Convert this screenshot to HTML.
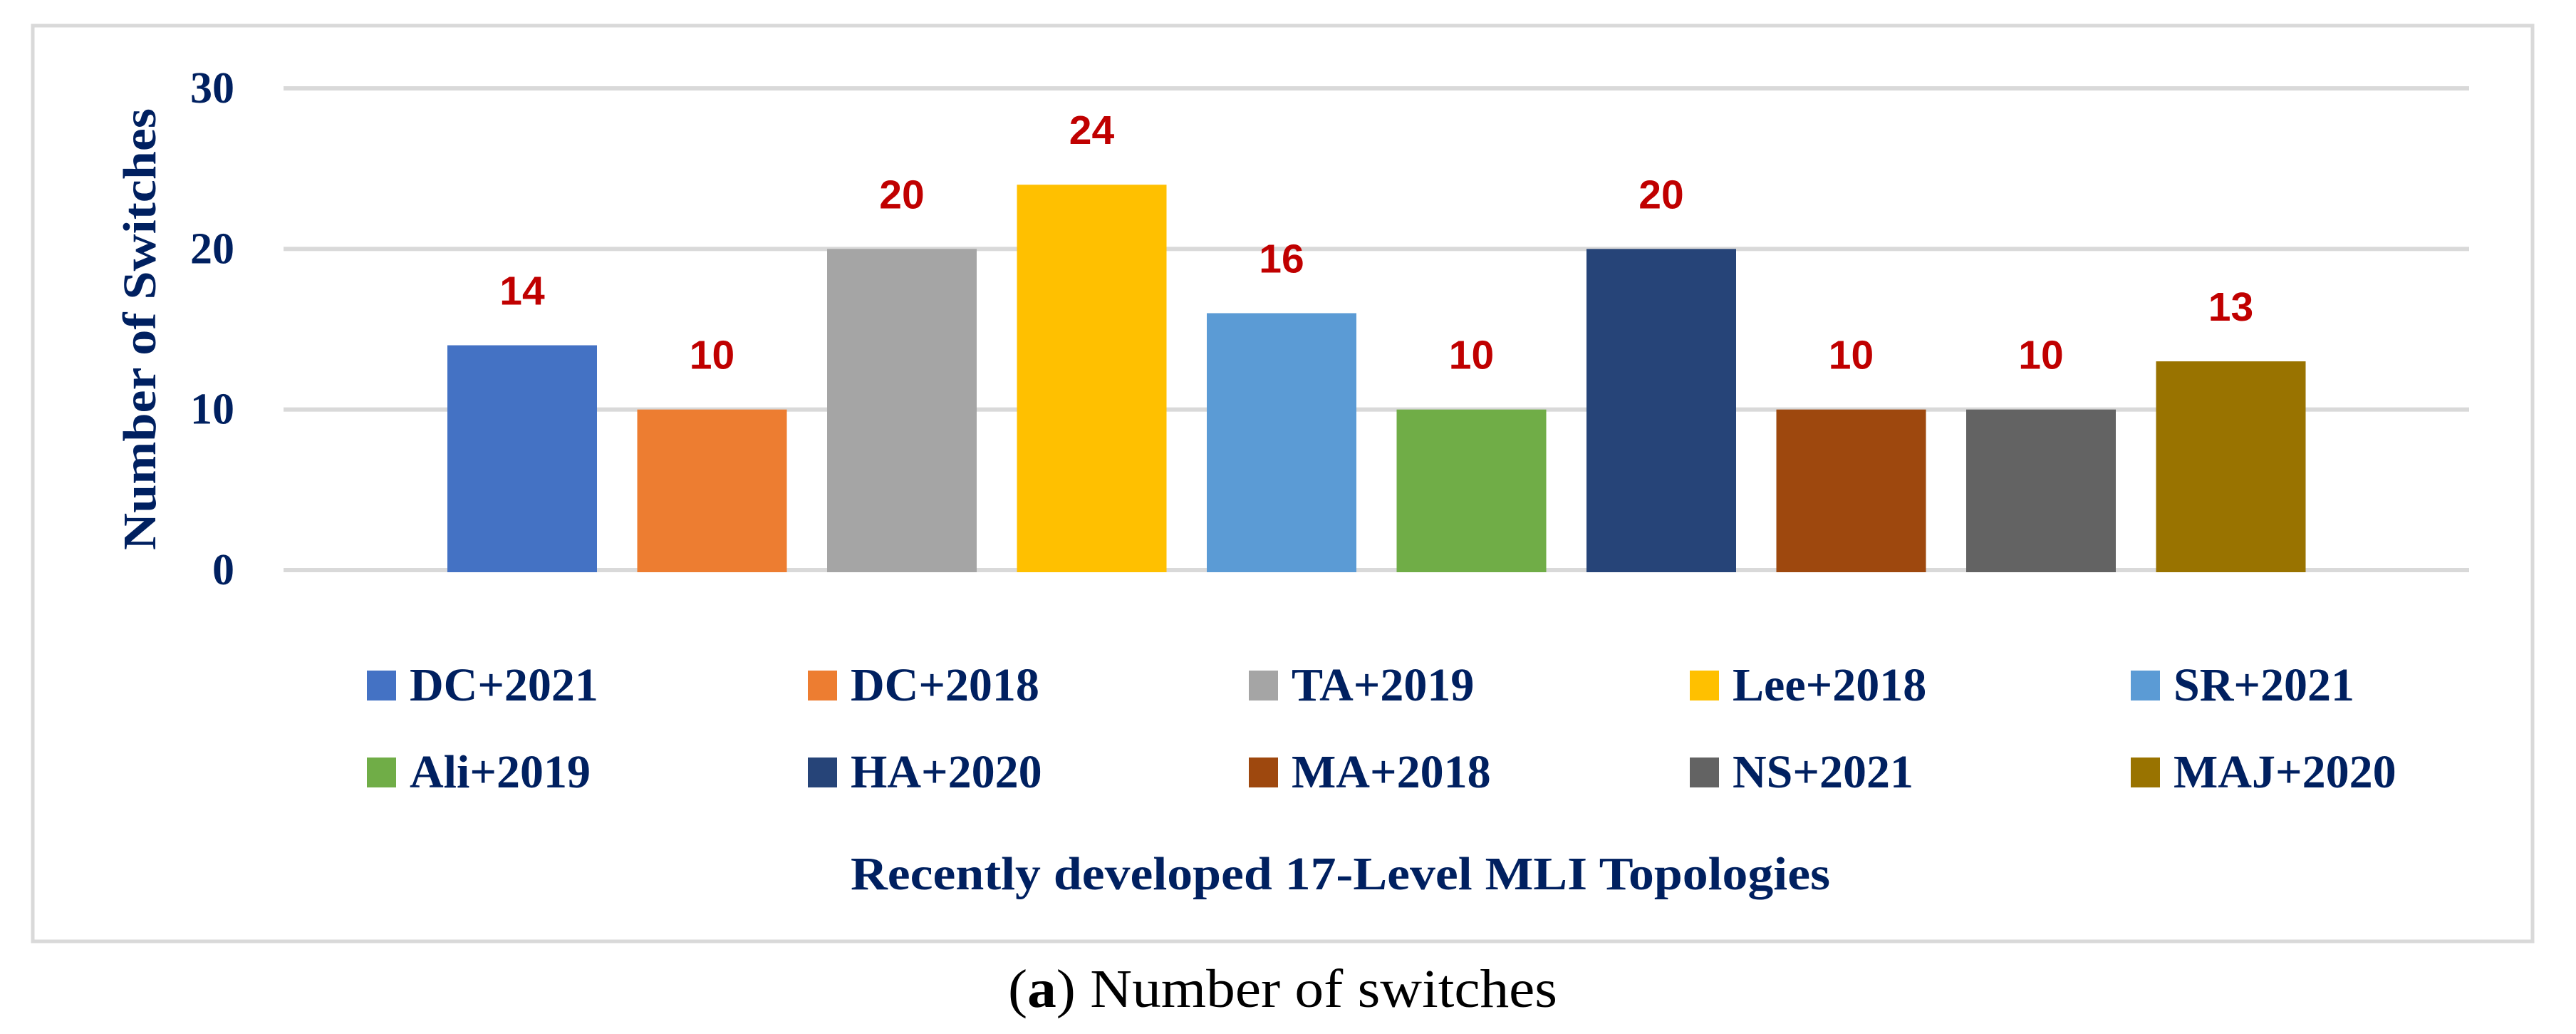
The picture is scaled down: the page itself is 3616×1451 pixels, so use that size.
<!DOCTYPE html>
<html><head><meta charset="utf-8"><style>
html,body{margin:0;padding:0;background:#fff;}
svg{display:block;}
</style></head><body>
<svg id="chart" width="3616" height="1451" viewBox="0 0 3616 1451" xmlns="http://www.w3.org/2000/svg">
<rect x="46" y="36" width="3509" height="1285" fill="#fff" stroke="#d9d9d9" stroke-width="5"/>
<g id="grid"></g>
<g id="yticks"></g>
<g id="bars"></g>
<g id="labels"></g>
<g id="legend"></g>
<text transform="translate(218,462) rotate(-90)" text-anchor="middle" font-family="'Liberation Serif',serif" font-weight="bold" font-size="66" fill="#002060" textLength="620" lengthAdjust="spacingAndGlyphs">Number of Switches</text>
<text x="1194" y="1248" font-family="'Liberation Serif',serif" font-weight="bold" font-size="66" fill="#002060" textLength="1375" lengthAdjust="spacingAndGlyphs">Recently developed 17-Level MLI Topologies</text>
<text x="1415" y="1413" font-family="'Liberation Serif',serif" font-size="76" fill="#000" textLength="771" lengthAdjust="spacingAndGlyphs">(<tspan font-weight="bold">a</tspan>) Number of switches</text>
</svg>
<script>
const categories = ["DC+2021","DC+2018","TA+2019","Lee+2018","SR+2021","Ali+2019","HA+2020","MA+2018","NS+2021","MAJ+2020"];
const values = [14,10,20,24,16,10,20,10,10,13];
const colors = ["#4472c4","#ed7d31","#a5a5a5","#ffc000","#5b9bd5","#70ad47","#264478","#9e480e","#636363","#997300"];
const yTicks = [0,10,20,30];

const NS = "http://www.w3.org/2000/svg";
const y0 = 800, yTop = 124, yMax = 30;
const yScale = v => y0 - (v / yMax) * (y0 - yTop);
const firstCenter = 733, pitch = 266.5, barW = 210;
const xScale = i => firstCenter + i * pitch;
function mk(tag, attrs, parent){const e=document.createElementNS(NS,tag);for(const k in attrs)e.setAttribute(k,attrs[k]);parent.appendChild(e);return e;}

const grid=document.getElementById('grid'), yt=document.getElementById('yticks');
yTicks.forEach(t=>{
  const l=mk('rect',{x:398,y:yScale(t)-3,width:3068,height:6,fill:'#d9d9d9'},grid);
  
  
  const tx=mk('text',{x:329,y:yScale(t)+20,'text-anchor':'end','font-family':"'Liberation Serif',serif",'font-weight':'bold','font-size':62,fill:'#002060'},yt);
  tx.textContent=t;
  
  
});

const bars=document.getElementById('bars'), labels=document.getElementById('labels');
values.forEach((v,i)=>{
  const cx=xScale(i);
  const r=mk('rect',{x:cx-barW/2,y:yScale(v),width:barW,height:y0-yScale(v)+3,fill:colors[i]},bars);
  
  
  const t=mk('text',{x:cx,y:yScale(v)-57,'text-anchor':'middle','font-family':"'Liberation Sans',sans-serif",'font-weight':'bold','font-size':57,fill:'#c00000'},labels);
  t.textContent=v;
  
  
});

const legend=document.getElementById('legend');
categories.forEach((c,i)=>{
  const col=i%5,row=Math.floor(i/5);
  const x=515+col*619, y=941+row*122;
  const g=mk('g',{},legend);
  
  
  mk('rect',{x:x,y:y,width:41,height:42,fill:colors[i]},g);
  const t=mk('text',{x:x+60,y:y+42,'font-family':"'Liberation Serif',serif",'font-weight':'bold','font-size':66,fill:'#002060'},g);
  t.textContent=c;
});
</script>
</body></html>
